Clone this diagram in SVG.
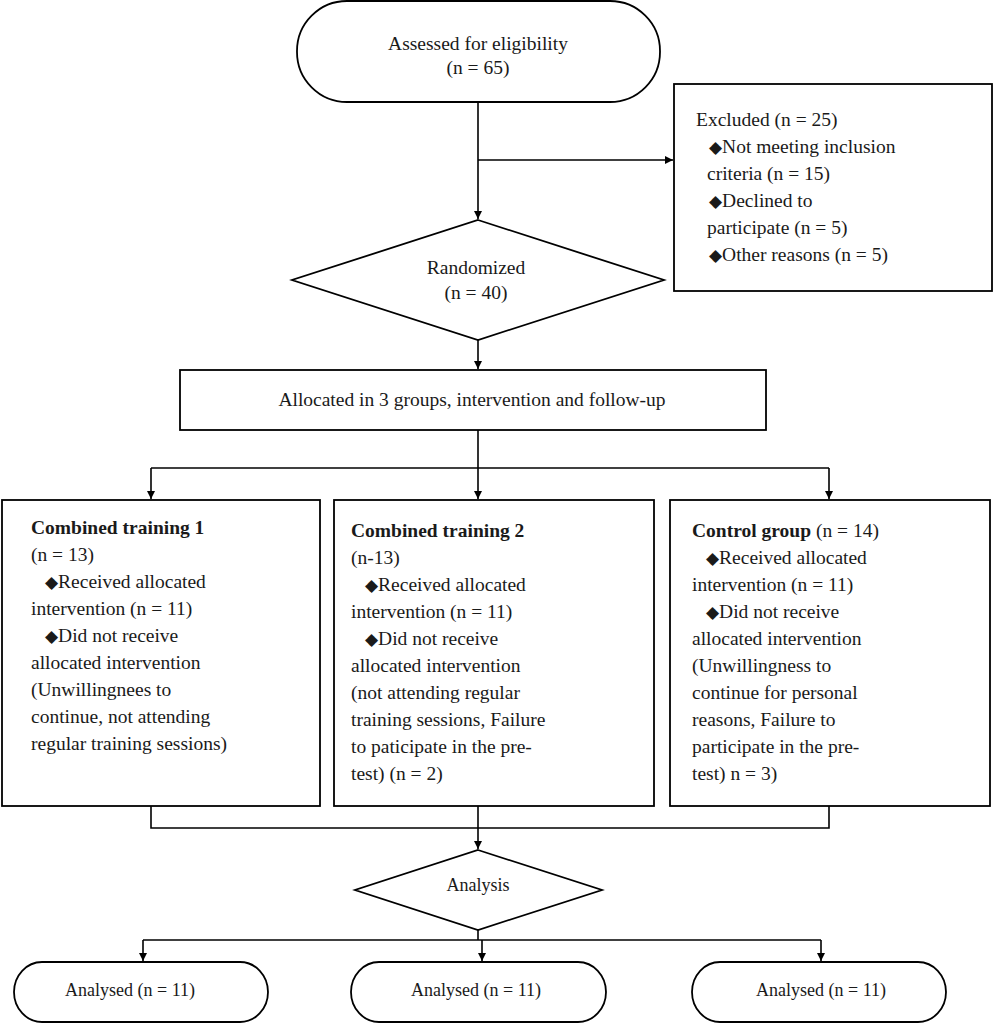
<svg xmlns="http://www.w3.org/2000/svg" width="1000" height="1023" viewBox="0 0 1000 1023">
<defs>
<marker id="arr" viewBox="0 0 10 10" refX="10" refY="5" markerWidth="8" markerHeight="8" markerUnits="userSpaceOnUse" orient="auto">
<path d="M0,0 L10,5 L0,10 z" fill="#000"/>
</marker>
<style>
.s{fill:#fff;stroke:#000;stroke-width:1.8}
.c{fill:none;stroke:#000;stroke-width:1.6}
.t{font-family:"Liberation Serif","Times New Roman",serif;font-size:19.5px;fill:#1a1a1a}
.a{font-size:18px}
.m{text-anchor:middle}
.b{font-weight:bold}
.d{font-family:"DejaVu Sans",sans-serif;font-size:17px}
</style>
</defs>
<rect width="1000" height="1023" fill="#fff"/>
<g id="connectors">
<path class="c" d="M478,102 V219" marker-end="url(#arr)"/>
<path class="c" d="M478,160 H673" marker-end="url(#arr)"/>
<path class="c" d="M478,340 V369" marker-end="url(#arr)"/>
<path class="c" d="M478,430 V468"/>
<path class="c" d="M151,468 H829"/>
<path class="c" d="M151,468 V499" marker-end="url(#arr)"/>
<path class="c" d="M478,468 V499" marker-end="url(#arr)"/>
<path class="c" d="M829,468 V499" marker-end="url(#arr)"/>
<path class="c" d="M151,806 V828 H829 V806"/>
<path class="c" d="M478,806 V849" marker-end="url(#arr)"/>
<path class="c" d="M478,930 V940"/>
<path class="c" d="M143,940 H821"/>
<path class="c" d="M143,940 V961" marker-end="url(#arr)"/>
<path class="c" d="M482,940 V961" marker-end="url(#arr)"/>
<path class="c" d="M821,940 V961" marker-end="url(#arr)"/>
</g>
<g id="assessed">
<rect class="s" x="297" y="1" width="363" height="101" rx="50" ry="50"/>
<text class="t m" x="478" y="50">Assessed for eligibility</text>
<text class="t m" x="478" y="74">(n = 65)</text>
</g>
<g id="excluded">
<rect class="s" x="674" y="84" width="318" height="207"/>
<text class="t" x="696" y="126">Excluded (n = 25)</text>
<text class="t" x="709" y="153"><tspan class="d">◆</tspan>Not meeting inclusion</text>
<text class="t" x="707" y="180">criteria (n = 15)</text>
<text class="t" x="709" y="207"><tspan class="d">◆</tspan>Declined to</text>
<text class="t" x="707" y="234">participate (n = 5)</text>
<text class="t" x="709" y="261"><tspan class="d">◆</tspan>Other reasons (n = 5)</text>
</g>
<g id="randomized">
<polygon class="s" points="478,220 664,280 478,340 292,280"/>
<text class="t m" x="476" y="274">Randomized</text>
<text class="t m" x="476" y="299">(n = 40)</text>
</g>
<g id="allocated">
<rect class="s" x="180" y="370" width="586" height="60"/>
<text class="t m" x="472" y="406">Allocated in 3 groups, intervention and follow-up</text>
</g>
<g id="group1">
<rect class="s" x="2" y="500" width="318" height="306"/>
<text class="t b" x="31" y="534">Combined training 1</text>
<text class="t" x="31" y="561">(n = 13)</text>
<text class="t" x="45" y="588"><tspan class="d">◆</tspan>Received allocated</text>
<text class="t" x="31" y="615">intervention (n = 11)</text>
<text class="t" x="45" y="642"><tspan class="d">◆</tspan>Did not receive</text>
<text class="t" x="31" y="669">allocated intervention</text>
<text class="t" x="31" y="696">(Unwillingnees to</text>
<text class="t" x="31" y="723">continue, not attending</text>
<text class="t" x="31" y="750">regular training sessions)</text>
</g>
<g id="group2">
<rect class="s" x="334" y="500" width="320" height="306"/>
<text class="t b" x="351" y="537">Combined training 2</text>
<text class="t" x="351" y="564">(n-13)</text>
<text class="t" x="365" y="591"><tspan class="d">◆</tspan>Received allocated</text>
<text class="t" x="351" y="618">intervention (n = 11)</text>
<text class="t" x="365" y="645"><tspan class="d">◆</tspan>Did not receive</text>
<text class="t" x="351" y="672">allocated intervention</text>
<text class="t" x="351" y="699">(not attending regular</text>
<text class="t" x="351" y="726">training sessions, Failure</text>
<text class="t" x="351" y="753">to paticipate in the pre-</text>
<text class="t" x="351" y="780">test) (n = 2)</text>
</g>
<g id="control">
<rect class="s" x="670" y="500" width="320" height="306"/>
<text class="t" x="692" y="537"><tspan class="b">Control group</tspan> (n = 14)</text>
<text class="t" x="706" y="564"><tspan class="d">◆</tspan>Received allocated</text>
<text class="t" x="692" y="591">intervention (n = 11)</text>
<text class="t" x="706" y="618"><tspan class="d">◆</tspan>Did not receive</text>
<text class="t" x="692" y="645">allocated intervention</text>
<text class="t" x="692" y="672">(Unwillingness to</text>
<text class="t" x="692" y="699">continue for personal</text>
<text class="t" x="692" y="726">reasons, Failure to</text>
<text class="t" x="692" y="753">participate in the pre-</text>
<text class="t" x="692" y="780">test) n = 3)</text>
</g>
<g id="analysis">
<polygon class="s" points="478,850 602,890 478,930 355,890"/>
<text class="t a m" x="478" y="891">Analysis</text>
</g>
<g id="analysed1">
<rect class="s" x="14" y="962" width="254" height="60" rx="28" ry="30"/>
<text class="t a m" x="130" y="996">Analysed (n = 11)</text>
</g>
<g id="analysed2">
<rect class="s" x="351" y="962" width="255" height="60" rx="28" ry="30"/>
<text class="t a m" x="476" y="996">Analysed (n = 11)</text>
</g>
<g id="analysed3">
<rect class="s" x="692" y="962" width="254" height="60" rx="28" ry="30"/>
<text class="t a m" x="821" y="996">Analysed (n = 11)</text>
</g>
</svg>
